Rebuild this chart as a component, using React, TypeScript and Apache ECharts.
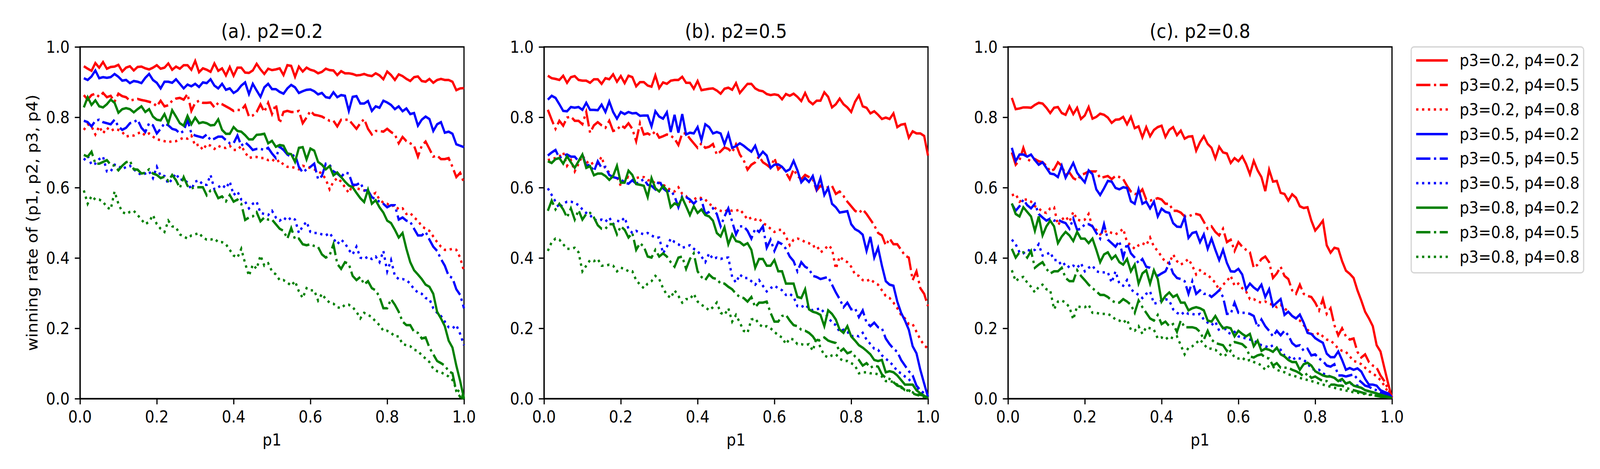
import React, { useEffect, useRef } from "react";
import * as echarts from "echarts";

// p1 sample positions
const P1 = [0.01, 0.02, 0.03, 0.04, 0.05, 0.06, 0.07, 0.08, 0.09, 0.1, 0.11, 0.12, 0.13, 0.14, 0.15, 0.16, 0.17, 0.18, 0.19, 0.2, 0.21, 0.22, 0.23, 0.24, 0.25, 0.26, 0.27, 0.28, 0.29, 0.3, 0.31, 0.32, 0.33, 0.34, 0.35, 0.36, 0.37, 0.38, 0.39, 0.4, 0.41, 0.42, 0.43, 0.44, 0.45, 0.46, 0.47, 0.48, 0.49, 0.5, 0.51, 0.52, 0.53, 0.54, 0.55, 0.56, 0.57, 0.58, 0.59, 0.6, 0.61, 0.62, 0.63, 0.64, 0.65, 0.66, 0.67, 0.68, 0.69, 0.7, 0.71, 0.72, 0.73, 0.74, 0.75, 0.76, 0.77, 0.78, 0.79, 0.8, 0.81, 0.82, 0.83, 0.84, 0.85, 0.86, 0.87, 0.88, 0.89, 0.9, 0.91, 0.92, 0.93, 0.94, 0.95, 0.96, 0.97, 0.98, 0.99, 1.0];

// Panel (a) p2=0.2
const A22 = [0.945, 0.938, 0.932, 0.954, 0.941, 0.957, 0.938, 0.943, 0.944, 0.949, 0.93, 0.941, 0.945, 0.933, 0.943, 0.944, 0.939, 0.936, 0.941, 0.948, 0.938, 0.941, 0.953, 0.935, 0.944, 0.938, 0.948, 0.948, 0.935, 0.96, 0.928, 0.939, 0.935, 0.929, 0.953, 0.932, 0.939, 0.919, 0.943, 0.918, 0.941, 0.941, 0.927, 0.926, 0.933, 0.952, 0.936, 0.923, 0.938, 0.934, 0.936, 0.939, 0.92, 0.948, 0.946, 0.915, 0.944, 0.93, 0.941, 0.935, 0.932, 0.925, 0.929, 0.938, 0.934, 0.933, 0.92, 0.931, 0.925, 0.925, 0.923, 0.919, 0.92, 0.923, 0.919, 0.917, 0.925, 0.919, 0.908, 0.93, 0.92, 0.906, 0.922, 0.917, 0.909, 0.903, 0.914, 0.916, 0.903, 0.901, 0.909, 0.898, 0.906, 0.909, 0.906, 0.906, 0.901, 0.877, 0.882, 0.883];
const A25 = [0.863, 0.85, 0.863, 0.867, 0.858, 0.869, 0.857, 0.861, 0.844, 0.867, 0.86, 0.857, 0.847, 0.85, 0.852, 0.849, 0.847, 0.844, 0.841, 0.831, 0.847, 0.831, 0.834, 0.847, 0.853, 0.855, 0.85, 0.866, 0.818, 0.841, 0.847, 0.841, 0.841, 0.842, 0.828, 0.841, 0.837, 0.831, 0.825, 0.818, 0.821, 0.82, 0.834, 0.802, 0.805, 0.815, 0.837, 0.815, 0.841, 0.809, 0.837, 0.783, 0.815, 0.818, 0.815, 0.815, 0.818, 0.783, 0.799, 0.818, 0.807, 0.805, 0.802, 0.796, 0.79, 0.79, 0.774, 0.793, 0.793, 0.793, 0.78, 0.767, 0.783, 0.795, 0.767, 0.751, 0.761, 0.761, 0.759, 0.767, 0.758, 0.751, 0.726, 0.744, 0.732, 0.726, 0.719, 0.688, 0.719, 0.731, 0.71, 0.688, 0.691, 0.681, 0.681, 0.684, 0.659, 0.63, 0.642, 0.614];
const A28 = [0.764, 0.78, 0.774, 0.751, 0.774, 0.754, 0.77, 0.761, 0.767, 0.764, 0.758, 0.745, 0.748, 0.748, 0.754, 0.758, 0.748, 0.754, 0.745, 0.737, 0.735, 0.732, 0.729, 0.732, 0.732, 0.737, 0.742, 0.739, 0.748, 0.719, 0.723, 0.707, 0.723, 0.719, 0.71, 0.719, 0.713, 0.713, 0.719, 0.707, 0.707, 0.719, 0.7, 0.684, 0.687, 0.687, 0.684, 0.684, 0.678, 0.681, 0.672, 0.678, 0.665, 0.659, 0.659, 0.656, 0.652, 0.662, 0.659, 0.656, 0.652, 0.646, 0.64, 0.624, 0.595, 0.617, 0.627, 0.617, 0.601, 0.585, 0.608, 0.598, 0.595, 0.592, 0.585, 0.579, 0.585, 0.566, 0.557, 0.554, 0.547, 0.55, 0.538, 0.541, 0.525, 0.528, 0.515, 0.506, 0.49, 0.483, 0.477, 0.461, 0.445, 0.432, 0.423, 0.423, 0.426, 0.423, 0.401, 0.362];
const A52 = [0.911, 0.906, 0.916, 0.933, 0.911, 0.914, 0.912, 0.914, 0.923, 0.915, 0.904, 0.906, 0.897, 0.903, 0.901, 0.897, 0.912, 0.923, 0.906, 0.898, 0.882, 0.901, 0.901, 0.898, 0.908, 0.895, 0.882, 0.893, 0.888, 0.895, 0.886, 0.899, 0.897, 0.908, 0.89, 0.882, 0.895, 0.878, 0.882, 0.869, 0.876, 0.89, 0.899, 0.866, 0.895, 0.876, 0.858, 0.885, 0.895, 0.88, 0.88, 0.872, 0.867, 0.882, 0.892, 0.885, 0.869, 0.874, 0.878, 0.879, 0.874, 0.865, 0.869, 0.857, 0.855, 0.871, 0.857, 0.863, 0.861, 0.818, 0.858, 0.86, 0.839, 0.839, 0.846, 0.818, 0.831, 0.827, 0.847, 0.842, 0.835, 0.823, 0.831, 0.817, 0.825, 0.809, 0.812, 0.776, 0.793, 0.802, 0.795, 0.761, 0.78, 0.786, 0.756, 0.759, 0.753, 0.723, 0.719, 0.715];
const A55 = [0.79, 0.786, 0.774, 0.79, 0.793, 0.786, 0.783, 0.78, 0.793, 0.774, 0.764, 0.77, 0.783, 0.786, 0.793, 0.77, 0.758, 0.783, 0.777, 0.754, 0.767, 0.783, 0.777, 0.767, 0.764, 0.754, 0.761, 0.793, 0.754, 0.748, 0.745, 0.742, 0.751, 0.735, 0.739, 0.745, 0.745, 0.735, 0.726, 0.726, 0.748, 0.719, 0.729, 0.719, 0.707, 0.71, 0.71, 0.707, 0.713, 0.697, 0.684, 0.716, 0.707, 0.694, 0.687, 0.694, 0.659, 0.643, 0.652, 0.659, 0.668, 0.624, 0.633, 0.668, 0.665, 0.646, 0.64, 0.63, 0.643, 0.64, 0.608, 0.608, 0.614, 0.592, 0.592, 0.573, 0.566, 0.56, 0.554, 0.544, 0.55, 0.55, 0.509, 0.515, 0.506, 0.503, 0.483, 0.464, 0.464, 0.474, 0.452, 0.432, 0.42, 0.397, 0.378, 0.349, 0.343, 0.311, 0.295, 0.257];
const A58 = [0.678, 0.691, 0.665, 0.668, 0.681, 0.688, 0.646, 0.646, 0.665, 0.662, 0.652, 0.659, 0.662, 0.652, 0.643, 0.636, 0.64, 0.646, 0.627, 0.659, 0.633, 0.633, 0.611, 0.624, 0.64, 0.621, 0.624, 0.614, 0.595, 0.617, 0.621, 0.608, 0.608, 0.636, 0.595, 0.601, 0.608, 0.598, 0.617, 0.579, 0.589, 0.566, 0.56, 0.541, 0.554, 0.56, 0.528, 0.525, 0.522, 0.534, 0.515, 0.506, 0.515, 0.506, 0.515, 0.509, 0.471, 0.49, 0.503, 0.474, 0.471, 0.471, 0.467, 0.464, 0.471, 0.455, 0.439, 0.452, 0.442, 0.423, 0.41, 0.432, 0.401, 0.397, 0.404, 0.397, 0.404, 0.388, 0.42, 0.362, 0.394, 0.349, 0.34, 0.34, 0.337, 0.327, 0.311, 0.302, 0.298, 0.286, 0.283, 0.257, 0.244, 0.235, 0.219, 0.203, 0.2, 0.209, 0.184, 0.152];
const A82 = [0.828, 0.857, 0.835, 0.848, 0.831, 0.828, 0.837, 0.85, 0.841, 0.813, 0.823, 0.826, 0.823, 0.814, 0.823, 0.831, 0.815, 0.823, 0.802, 0.793, 0.791, 0.809, 0.783, 0.82, 0.802, 0.783, 0.776, 0.804, 0.78, 0.799, 0.783, 0.786, 0.783, 0.777, 0.778, 0.794, 0.764, 0.753, 0.753, 0.772, 0.761, 0.759, 0.749, 0.737, 0.737, 0.75, 0.751, 0.753, 0.726, 0.733, 0.716, 0.721, 0.719, 0.697, 0.695, 0.673, 0.713, 0.715, 0.68, 0.711, 0.705, 0.673, 0.665, 0.652, 0.661, 0.635, 0.643, 0.63, 0.617, 0.606, 0.601, 0.585, 0.57, 0.559, 0.594, 0.554, 0.564, 0.544, 0.529, 0.506, 0.499, 0.48, 0.458, 0.471, 0.426, 0.388, 0.365, 0.353, 0.34, 0.324, 0.318, 0.298, 0.247, 0.228, 0.206, 0.165, 0.145, 0.094, 0.05, 0.0];
const A85 = [0.693, 0.688, 0.702, 0.668, 0.668, 0.673, 0.678, 0.665, 0.662, 0.649, 0.662, 0.672, 0.676, 0.652, 0.651, 0.64, 0.642, 0.652, 0.64, 0.636, 0.627, 0.631, 0.619, 0.636, 0.621, 0.599, 0.63, 0.605, 0.598, 0.601, 0.601, 0.601, 0.578, 0.592, 0.592, 0.57, 0.575, 0.561, 0.579, 0.56, 0.566, 0.554, 0.508, 0.515, 0.518, 0.53, 0.504, 0.515, 0.509, 0.509, 0.496, 0.483, 0.477, 0.455, 0.485, 0.453, 0.455, 0.439, 0.436, 0.439, 0.434, 0.431, 0.41, 0.401, 0.407, 0.439, 0.383, 0.369, 0.388, 0.383, 0.349, 0.337, 0.346, 0.325, 0.334, 0.314, 0.308, 0.289, 0.257, 0.257, 0.283, 0.267, 0.247, 0.219, 0.209, 0.209, 0.19, 0.187, 0.171, 0.174, 0.145, 0.126, 0.107, 0.101, 0.094, 0.078, 0.072, 0.021, 0.005, 0.0];
const A88 = [0.592, 0.554, 0.576, 0.566, 0.566, 0.56, 0.544, 0.538, 0.589, 0.554, 0.531, 0.525, 0.531, 0.534, 0.522, 0.509, 0.496, 0.503, 0.522, 0.496, 0.483, 0.474, 0.506, 0.49, 0.487, 0.467, 0.461, 0.455, 0.464, 0.467, 0.471, 0.458, 0.452, 0.452, 0.455, 0.445, 0.445, 0.439, 0.423, 0.407, 0.401, 0.426, 0.385, 0.349, 0.381, 0.369, 0.407, 0.378, 0.385, 0.362, 0.353, 0.337, 0.337, 0.33, 0.321, 0.334, 0.305, 0.286, 0.314, 0.308, 0.308, 0.279, 0.298, 0.283, 0.273, 0.27, 0.26, 0.257, 0.267, 0.267, 0.26, 0.247, 0.228, 0.244, 0.238, 0.232, 0.219, 0.209, 0.193, 0.193, 0.187, 0.177, 0.177, 0.155, 0.152, 0.149, 0.139, 0.136, 0.123, 0.114, 0.104, 0.085, 0.078, 0.075, 0.069, 0.063, 0.053, 0.027, 0.018, 0.005];

// Panel (b) p2=0.5
const B22 = [0.918, 0.911, 0.909, 0.906, 0.918, 0.898, 0.914, 0.917, 0.906, 0.904, 0.904, 0.898, 0.908, 0.908, 0.895, 0.911, 0.908, 0.922, 0.901, 0.917, 0.897, 0.918, 0.914, 0.888, 0.9, 0.9, 0.89, 0.887, 0.919, 0.883, 0.899, 0.895, 0.904, 0.906, 0.906, 0.915, 0.898, 0.898, 0.881, 0.903, 0.877, 0.879, 0.881, 0.882, 0.876, 0.867, 0.881, 0.884, 0.878, 0.897, 0.869, 0.882, 0.895, 0.895, 0.882, 0.876, 0.874, 0.866, 0.863, 0.865, 0.863, 0.851, 0.866, 0.861, 0.867, 0.858, 0.846, 0.869, 0.846, 0.837, 0.847, 0.847, 0.871, 0.858, 0.828, 0.837, 0.853, 0.837, 0.828, 0.815, 0.844, 0.862, 0.831, 0.827, 0.811, 0.817, 0.807, 0.795, 0.799, 0.795, 0.811, 0.772, 0.779, 0.781, 0.742, 0.76, 0.754, 0.754, 0.747, 0.691];
const B25 = [0.821, 0.793, 0.767, 0.79, 0.776, 0.799, 0.802, 0.79, 0.79, 0.78, 0.815, 0.756, 0.777, 0.786, 0.777, 0.77, 0.79, 0.761, 0.764, 0.777, 0.77, 0.783, 0.767, 0.732, 0.783, 0.751, 0.754, 0.748, 0.761, 0.742, 0.746, 0.751, 0.748, 0.739, 0.721, 0.754, 0.754, 0.739, 0.726, 0.713, 0.726, 0.713, 0.716, 0.724, 0.694, 0.703, 0.714, 0.71, 0.7, 0.723, 0.694, 0.678, 0.651, 0.665, 0.672, 0.689, 0.672, 0.665, 0.656, 0.684, 0.652, 0.662, 0.643, 0.624, 0.652, 0.633, 0.624, 0.636, 0.63, 0.624, 0.592, 0.605, 0.598, 0.601, 0.605, 0.582, 0.589, 0.576, 0.56, 0.547, 0.534, 0.528, 0.538, 0.525, 0.509, 0.493, 0.471, 0.464, 0.436, 0.455, 0.439, 0.439, 0.423, 0.407, 0.401, 0.337, 0.362, 0.314, 0.298, 0.263];
const B28 = [0.678, 0.681, 0.684, 0.688, 0.7, 0.662, 0.678, 0.646, 0.668, 0.691, 0.675, 0.665, 0.672, 0.668, 0.688, 0.652, 0.643, 0.633, 0.63, 0.605, 0.624, 0.63, 0.621, 0.627, 0.63, 0.63, 0.621, 0.621, 0.611, 0.614, 0.608, 0.601, 0.592, 0.589, 0.601, 0.582, 0.576, 0.56, 0.566, 0.573, 0.57, 0.566, 0.554, 0.547, 0.538, 0.534, 0.531, 0.538, 0.534, 0.534, 0.538, 0.525, 0.509, 0.515, 0.509, 0.512, 0.499, 0.493, 0.483, 0.474, 0.48, 0.48, 0.461, 0.436, 0.452, 0.455, 0.452, 0.445, 0.442, 0.432, 0.436, 0.416, 0.423, 0.436, 0.426, 0.369, 0.404, 0.394, 0.388, 0.375, 0.353, 0.349, 0.337, 0.334, 0.34, 0.33, 0.324, 0.308, 0.292, 0.286, 0.273, 0.257, 0.238, 0.228, 0.212, 0.212, 0.19, 0.168, 0.152, 0.142];
const B52 = [0.85, 0.861, 0.855, 0.837, 0.818, 0.817, 0.829, 0.827, 0.829, 0.821, 0.841, 0.821, 0.821, 0.82, 0.836, 0.815, 0.845, 0.815, 0.796, 0.815, 0.809, 0.815, 0.811, 0.812, 0.804, 0.805, 0.805, 0.774, 0.817, 0.802, 0.796, 0.814, 0.758, 0.807, 0.756, 0.809, 0.751, 0.756, 0.754, 0.772, 0.735, 0.78, 0.772, 0.754, 0.758, 0.754, 0.723, 0.753, 0.713, 0.718, 0.726, 0.719, 0.71, 0.702, 0.719, 0.688, 0.702, 0.691, 0.656, 0.665, 0.666, 0.659, 0.646, 0.652, 0.676, 0.649, 0.615, 0.627, 0.616, 0.633, 0.595, 0.627, 0.579, 0.599, 0.554, 0.544, 0.529, 0.531, 0.533, 0.496, 0.482, 0.476, 0.466, 0.42, 0.46, 0.401, 0.429, 0.378, 0.334, 0.324, 0.321, 0.276, 0.244, 0.222, 0.196, 0.149, 0.129, 0.082, 0.043, 0.005];
const B55 = [0.691, 0.7, 0.707, 0.684, 0.691, 0.694, 0.688, 0.688, 0.675, 0.694, 0.662, 0.665, 0.646, 0.675, 0.656, 0.659, 0.636, 0.63, 0.627, 0.624, 0.614, 0.611, 0.621, 0.611, 0.617, 0.624, 0.608, 0.605, 0.595, 0.621, 0.598, 0.589, 0.592, 0.576, 0.544, 0.576, 0.573, 0.566, 0.554, 0.566, 0.566, 0.525, 0.531, 0.541, 0.525, 0.49, 0.518, 0.541, 0.503, 0.467, 0.49, 0.49, 0.477, 0.455, 0.483, 0.474, 0.49, 0.429, 0.452, 0.42, 0.445, 0.439, 0.426, 0.404, 0.391, 0.362, 0.388, 0.375, 0.369, 0.349, 0.346, 0.34, 0.343, 0.346, 0.324, 0.302, 0.283, 0.26, 0.273, 0.254, 0.257, 0.232, 0.251, 0.216, 0.206, 0.216, 0.203, 0.2, 0.171, 0.155, 0.142, 0.133, 0.11, 0.094, 0.078, 0.066, 0.037, 0.024, 0.015, 0.005];
const B58 = [0.598, 0.579, 0.56, 0.541, 0.554, 0.56, 0.56, 0.557, 0.55, 0.538, 0.528, 0.522, 0.509, 0.506, 0.509, 0.503, 0.515, 0.496, 0.506, 0.503, 0.515, 0.483, 0.471, 0.477, 0.471, 0.467, 0.471, 0.464, 0.458, 0.458, 0.413, 0.432, 0.455, 0.445, 0.439, 0.429, 0.432, 0.436, 0.426, 0.42, 0.404, 0.388, 0.413, 0.397, 0.401, 0.397, 0.401, 0.401, 0.346, 0.33, 0.353, 0.343, 0.343, 0.334, 0.324, 0.337, 0.321, 0.305, 0.314, 0.321, 0.314, 0.308, 0.295, 0.298, 0.289, 0.263, 0.26, 0.267, 0.257, 0.251, 0.254, 0.257, 0.244, 0.232, 0.216, 0.209, 0.19, 0.196, 0.19, 0.177, 0.18, 0.177, 0.187, 0.168, 0.155, 0.142, 0.139, 0.123, 0.114, 0.104, 0.094, 0.078, 0.072, 0.063, 0.056, 0.04, 0.027, 0.021, 0.011, 0.005];
const B82 = [0.675, 0.67, 0.681, 0.684, 0.668, 0.689, 0.672, 0.656, 0.675, 0.694, 0.656, 0.661, 0.635, 0.64, 0.64, 0.633, 0.622, 0.633, 0.662, 0.614, 0.614, 0.648, 0.636, 0.61, 0.608, 0.605, 0.573, 0.627, 0.598, 0.589, 0.605, 0.592, 0.544, 0.555, 0.55, 0.571, 0.547, 0.522, 0.547, 0.528, 0.538, 0.522, 0.518, 0.506, 0.471, 0.461, 0.487, 0.439, 0.467, 0.448, 0.445, 0.436, 0.442, 0.423, 0.372, 0.397, 0.397, 0.378, 0.378, 0.394, 0.362, 0.362, 0.327, 0.327, 0.327, 0.289, 0.286, 0.311, 0.254, 0.247, 0.244, 0.238, 0.206, 0.251, 0.241, 0.225, 0.196, 0.187, 0.206, 0.177, 0.165, 0.152, 0.145, 0.136, 0.126, 0.11, 0.107, 0.11, 0.075, 0.078, 0.075, 0.066, 0.053, 0.04, 0.04, 0.04, 0.024, 0.015, 0.008, 0.002];
const B85 = [0.534, 0.563, 0.538, 0.554, 0.538, 0.515, 0.541, 0.509, 0.536, 0.509, 0.525, 0.528, 0.515, 0.493, 0.483, 0.483, 0.496, 0.496, 0.467, 0.49, 0.48, 0.458, 0.471, 0.423, 0.442, 0.432, 0.404, 0.401, 0.423, 0.404, 0.413, 0.404, 0.388, 0.375, 0.401, 0.404, 0.369, 0.397, 0.413, 0.362, 0.346, 0.337, 0.353, 0.343, 0.34, 0.327, 0.327, 0.318, 0.311, 0.298, 0.289, 0.286, 0.276, 0.289, 0.26, 0.273, 0.273, 0.276, 0.244, 0.219, 0.219, 0.235, 0.238, 0.222, 0.209, 0.206, 0.196, 0.193, 0.187, 0.177, 0.161, 0.168, 0.174, 0.165, 0.161, 0.158, 0.133, 0.142, 0.129, 0.133, 0.12, 0.11, 0.094, 0.101, 0.088, 0.094, 0.091, 0.069, 0.059, 0.056, 0.047, 0.037, 0.034, 0.024, 0.024, 0.015, 0.011, 0.011, 0.008, 0.002];
const B88 = [0.42, 0.445, 0.455, 0.452, 0.439, 0.426, 0.426, 0.429, 0.416, 0.362, 0.378, 0.394, 0.391, 0.397, 0.378, 0.378, 0.381, 0.378, 0.362, 0.372, 0.369, 0.362, 0.362, 0.337, 0.324, 0.314, 0.327, 0.334, 0.349, 0.34, 0.314, 0.295, 0.286, 0.308, 0.292, 0.273, 0.283, 0.283, 0.298, 0.276, 0.267, 0.26, 0.251, 0.26, 0.273, 0.244, 0.238, 0.257, 0.219, 0.238, 0.216, 0.193, 0.187, 0.225, 0.228, 0.212, 0.203, 0.206, 0.2, 0.19, 0.18, 0.174, 0.155, 0.171, 0.168, 0.155, 0.155, 0.152, 0.155, 0.136, 0.174, 0.145, 0.123, 0.117, 0.123, 0.126, 0.114, 0.107, 0.107, 0.101, 0.094, 0.072, 0.075, 0.075, 0.072, 0.072, 0.069, 0.063, 0.05, 0.05, 0.047, 0.04, 0.031, 0.027, 0.021, 0.018, 0.011, 0.008, 0.005, 0.002];

// Panel (c) p2=0.8
const C22 = [0.855, 0.823, 0.825, 0.828, 0.828, 0.827, 0.835, 0.841, 0.839, 0.827, 0.812, 0.827, 0.829, 0.812, 0.807, 0.831, 0.809, 0.827, 0.795, 0.805, 0.829, 0.796, 0.801, 0.81, 0.807, 0.799, 0.784, 0.793, 0.794, 0.801, 0.78, 0.801, 0.769, 0.774, 0.743, 0.772, 0.746, 0.764, 0.772, 0.776, 0.744, 0.764, 0.772, 0.749, 0.762, 0.739, 0.745, 0.746, 0.705, 0.729, 0.746, 0.724, 0.713, 0.683, 0.716, 0.7, 0.697, 0.67, 0.684, 0.675, 0.689, 0.667, 0.638, 0.676, 0.649, 0.63, 0.59, 0.651, 0.617, 0.619, 0.585, 0.582, 0.563, 0.581, 0.571, 0.547, 0.542, 0.544, 0.506, 0.478, 0.491, 0.506, 0.436, 0.415, 0.429, 0.426, 0.391, 0.364, 0.355, 0.343, 0.308, 0.279, 0.247, 0.228, 0.206, 0.152, 0.134, 0.088, 0.043, 0.002];
const C25 = [0.7, 0.665, 0.678, 0.713, 0.681, 0.675, 0.681, 0.675, 0.672, 0.662, 0.646, 0.652, 0.672, 0.662, 0.636, 0.643, 0.627, 0.621, 0.636, 0.64, 0.646, 0.646, 0.646, 0.627, 0.63, 0.633, 0.624, 0.633, 0.63, 0.624, 0.605, 0.589, 0.582, 0.582, 0.595, 0.566, 0.563, 0.566, 0.57, 0.566, 0.554, 0.554, 0.534, 0.534, 0.529, 0.518, 0.518, 0.523, 0.525, 0.522, 0.503, 0.483, 0.49, 0.474, 0.464, 0.483, 0.445, 0.452, 0.42, 0.445, 0.432, 0.423, 0.416, 0.372, 0.381, 0.397, 0.404, 0.388, 0.343, 0.356, 0.375, 0.349, 0.34, 0.308, 0.298, 0.324, 0.298, 0.292, 0.289, 0.273, 0.251, 0.283, 0.241, 0.257, 0.209, 0.18, 0.2, 0.177, 0.168, 0.171, 0.133, 0.117, 0.126, 0.104, 0.094, 0.088, 0.066, 0.05, 0.027, 0.005];
const C28 = [0.578, 0.582, 0.56, 0.566, 0.566, 0.56, 0.547, 0.541, 0.531, 0.528, 0.541, 0.544, 0.493, 0.509, 0.518, 0.503, 0.531, 0.509, 0.506, 0.509, 0.525, 0.487, 0.48, 0.467, 0.474, 0.477, 0.471, 0.467, 0.474, 0.483, 0.445, 0.436, 0.426, 0.436, 0.442, 0.436, 0.458, 0.432, 0.42, 0.404, 0.388, 0.385, 0.41, 0.391, 0.381, 0.388, 0.397, 0.378, 0.353, 0.365, 0.356, 0.353, 0.34, 0.33, 0.308, 0.324, 0.334, 0.349, 0.321, 0.327, 0.314, 0.305, 0.283, 0.283, 0.276, 0.273, 0.276, 0.27, 0.267, 0.26, 0.267, 0.257, 0.247, 0.235, 0.228, 0.222, 0.209, 0.196, 0.184, 0.18, 0.187, 0.177, 0.168, 0.165, 0.155, 0.142, 0.136, 0.133, 0.12, 0.107, 0.104, 0.098, 0.088, 0.078, 0.072, 0.063, 0.053, 0.037, 0.018, 0.005];
const C52 = [0.713, 0.675, 0.694, 0.694, 0.688, 0.694, 0.678, 0.665, 0.672, 0.656, 0.64, 0.638, 0.63, 0.662, 0.628, 0.649, 0.67, 0.642, 0.628, 0.615, 0.649, 0.638, 0.595, 0.579, 0.598, 0.619, 0.617, 0.599, 0.595, 0.601, 0.599, 0.561, 0.554, 0.595, 0.554, 0.56, 0.541, 0.56, 0.518, 0.54, 0.531, 0.528, 0.499, 0.489, 0.488, 0.515, 0.457, 0.471, 0.474, 0.445, 0.467, 0.426, 0.455, 0.423, 0.394, 0.423, 0.386, 0.362, 0.361, 0.369, 0.353, 0.311, 0.327, 0.316, 0.308, 0.324, 0.289, 0.311, 0.263, 0.273, 0.283, 0.238, 0.247, 0.235, 0.228, 0.239, 0.216, 0.187, 0.184, 0.172, 0.165, 0.159, 0.128, 0.118, 0.118, 0.134, 0.11, 0.082, 0.087, 0.082, 0.086, 0.077, 0.056, 0.04, 0.04, 0.037, 0.024, 0.019, 0.015, 0.004];
const C55 = [0.554, 0.534, 0.547, 0.566, 0.55, 0.541, 0.554, 0.525, 0.515, 0.506, 0.512, 0.506, 0.509, 0.503, 0.499, 0.483, 0.512, 0.48, 0.483, 0.496, 0.496, 0.49, 0.471, 0.455, 0.496, 0.452, 0.442, 0.432, 0.448, 0.401, 0.442, 0.413, 0.401, 0.385, 0.397, 0.375, 0.372, 0.362, 0.349, 0.356, 0.362, 0.385, 0.356, 0.343, 0.34, 0.334, 0.298, 0.334, 0.298, 0.308, 0.298, 0.298, 0.289, 0.298, 0.308, 0.289, 0.241, 0.241, 0.273, 0.244, 0.244, 0.244, 0.241, 0.235, 0.203, 0.225, 0.206, 0.193, 0.177, 0.193, 0.18, 0.193, 0.18, 0.158, 0.149, 0.152, 0.136, 0.142, 0.123, 0.126, 0.114, 0.107, 0.094, 0.091, 0.098, 0.066, 0.066, 0.063, 0.066, 0.069, 0.056, 0.047, 0.037, 0.034, 0.027, 0.024, 0.018, 0.015, 0.011, 0.005];
const C58 = [0.452, 0.439, 0.416, 0.413, 0.423, 0.42, 0.423, 0.439, 0.407, 0.41, 0.416, 0.394, 0.394, 0.378, 0.385, 0.372, 0.378, 0.372, 0.385, 0.362, 0.372, 0.378, 0.362, 0.359, 0.359, 0.359, 0.33, 0.362, 0.327, 0.321, 0.337, 0.311, 0.302, 0.295, 0.286, 0.298, 0.305, 0.27, 0.273, 0.279, 0.283, 0.279, 0.254, 0.244, 0.238, 0.247, 0.241, 0.241, 0.238, 0.241, 0.225, 0.216, 0.209, 0.219, 0.193, 0.209, 0.19, 0.184, 0.19, 0.177, 0.174, 0.171, 0.168, 0.165, 0.158, 0.152, 0.149, 0.145, 0.152, 0.136, 0.139, 0.123, 0.12, 0.11, 0.117, 0.114, 0.11, 0.101, 0.085, 0.082, 0.082, 0.072, 0.066, 0.063, 0.059, 0.053, 0.05, 0.043, 0.043, 0.04, 0.037, 0.031, 0.024, 0.021, 0.018, 0.015, 0.011, 0.008, 0.005, 0.003];
const C82 = [0.555, 0.525, 0.518, 0.544, 0.531, 0.518, 0.477, 0.518, 0.464, 0.49, 0.506, 0.49, 0.442, 0.461, 0.474, 0.464, 0.448, 0.474, 0.455, 0.455, 0.442, 0.455, 0.423, 0.388, 0.41, 0.416, 0.397, 0.407, 0.388, 0.381, 0.397, 0.362, 0.381, 0.327, 0.356, 0.365, 0.327, 0.365, 0.34, 0.276, 0.292, 0.302, 0.289, 0.295, 0.273, 0.273, 0.251, 0.257, 0.26, 0.257, 0.251, 0.222, 0.219, 0.235, 0.216, 0.2, 0.203, 0.2, 0.177, 0.193, 0.184, 0.177, 0.184, 0.149, 0.165, 0.136, 0.142, 0.139, 0.133, 0.145, 0.126, 0.12, 0.11, 0.104, 0.104, 0.082, 0.098, 0.102, 0.094, 0.078, 0.072, 0.066, 0.063, 0.063, 0.059, 0.05, 0.056, 0.043, 0.047, 0.037, 0.034, 0.031, 0.024, 0.021, 0.018, 0.015, 0.011, 0.008, 0.005, 0.002];
const C85 = [0.426, 0.401, 0.416, 0.416, 0.401, 0.42, 0.372, 0.381, 0.388, 0.369, 0.356, 0.362, 0.362, 0.372, 0.343, 0.334, 0.334, 0.365, 0.349, 0.337, 0.324, 0.314, 0.305, 0.295, 0.295, 0.289, 0.279, 0.273, 0.273, 0.283, 0.276, 0.267, 0.244, 0.279, 0.26, 0.244, 0.228, 0.222, 0.238, 0.212, 0.219, 0.206, 0.212, 0.19, 0.222, 0.203, 0.203, 0.203, 0.2, 0.19, 0.168, 0.193, 0.168, 0.158, 0.155, 0.152, 0.136, 0.155, 0.161, 0.158, 0.155, 0.145, 0.12, 0.117, 0.123, 0.126, 0.117, 0.114, 0.094, 0.101, 0.088, 0.088, 0.088, 0.082, 0.078, 0.072, 0.063, 0.072, 0.059, 0.063, 0.056, 0.05, 0.05, 0.04, 0.04, 0.037, 0.037, 0.031, 0.027, 0.024, 0.021, 0.018, 0.015, 0.013, 0.01, 0.008, 0.006, 0.005, 0.004, 0.002];
const C88 = [0.365, 0.334, 0.343, 0.346, 0.33, 0.318, 0.302, 0.318, 0.324, 0.311, 0.308, 0.254, 0.276, 0.279, 0.273, 0.26, 0.225, 0.263, 0.26, 0.26, 0.267, 0.244, 0.244, 0.241, 0.241, 0.241, 0.235, 0.225, 0.222, 0.216, 0.225, 0.196, 0.193, 0.206, 0.184, 0.203, 0.2, 0.196, 0.171, 0.174, 0.168, 0.177, 0.171, 0.177, 0.152, 0.126, 0.145, 0.149, 0.158, 0.168, 0.155, 0.142, 0.142, 0.139, 0.129, 0.12, 0.126, 0.136, 0.117, 0.114, 0.117, 0.107, 0.11, 0.104, 0.101, 0.094, 0.082, 0.094, 0.091, 0.082, 0.078, 0.075, 0.069, 0.066, 0.063, 0.059, 0.056, 0.053, 0.05, 0.047, 0.043, 0.04, 0.037, 0.034, 0.031, 0.027, 0.026, 0.023, 0.021, 0.018, 0.017, 0.015, 0.013, 0.011, 0.01, 0.008, 0.006, 0.005, 0.004, 0.002];

const SERIES_NAMES = [
  "p3=0.2, p4=0.2",
  "p3=0.2, p4=0.5",
  "p3=0.2, p4=0.8",
  "p3=0.5, p4=0.2",
  "p3=0.5, p4=0.5",
  "p3=0.5, p4=0.8",
  "p3=0.8, p4=0.2",
  "p3=0.8, p4=0.5",
  "p3=0.8, p4=0.8",
];
const PANEL_TITLES = ["(a). p2=0.2", "(b). p2=0.5", "(c). p2=0.8"];
const PANEL_DATA = [
  [A22, A25, A28, A52, A55, A58, A82, A85, A88],
  [B22, B25, B28, B52, B55, B58, B82, B85, B88],
  [C22, C25, C28, C52, C55, C58, C82, C85, C88],
];
const TICKS = [0, 0.2, 0.4, 0.6, 0.8, 1.0];

const P3_COLORS = ["#ff0000", "#0000ff", "#008000"];
const LW = 6.25;
const P4_DASH: any[] = ["solid", [40, 10, 6.25, 10], [6.25, 10.3]];

const FONT = "DejaVu Sans";
const DESIGN_W = 4500;
const DESIGN_H = 1200;
const GRID_LEFTS = [225, 1530, 2835];
const GRID_TOP = 120;
const GRID_W = 1080;
const GRID_H = 900;

// legend box layout
const LEG_X = 3969;
const LEG_Y = 120;
const LEG_W = 485;
const LEG_H = 578;
const LEG_ROW0 = 154.6;
const LEG_ROW_STEP = 62.8;

function buildOption() {
  const grids = GRID_LEFTS.map((left) => ({
    left,
    top: GRID_TOP,
    width: GRID_W,
    height: GRID_H,
    show: true,
    borderColor: "#000",
    borderWidth: 3.3,
    backgroundColor: "transparent",
    containLabel: false,
  }));
  const axisCommon = {
    type: "value",
    min: TICKS[0],
    max: TICKS[TICKS.length - 1],
    interval: 0.2,
    splitLine: { show: false },
    axisLine: { show: true, onZero: false, lineStyle: { color: "#000", width: 3.3 } },
    axisTick: { show: true, inside: false, length: 14.6, lineStyle: { color: "#000", width: 3.3 } },
  };
  const xAxes = GRID_LEFTS.map((_, i) => ({
    ...axisCommon,
    gridIndex: i,
    position: "bottom",
    name: "p1",
    nameLocation: "middle",
    nameGap: 84,
    nameTextStyle: { fontSize: 42, fontFamily: FONT, color: "#000" },
    axisLabel: {
      fontSize: 42,
      fontFamily: FONT,
      color: "#000",
      margin: 25,
      formatter: (v: number) => v.toFixed(1),
    },
  }));
  const yAxes = GRID_LEFTS.map((_, i) => ({
    ...axisCommon,
    gridIndex: i,
    position: "left",
    name: i === 0 ? "winning rate of (p1, p2, p3, p4)" : "",
    nameLocation: "middle",
    nameGap: 113,
    nameTextStyle: { fontSize: 42, fontFamily: FONT, color: "#000" },
    axisLabel: {
      fontSize: 42,
      fontFamily: FONT,
      color: "#000",
      margin: 29,
      formatter: (v: number) => v.toFixed(1),
    },
  }));
  const series: any[] = [];
  PANEL_DATA.forEach((panel, pi) => {
    panel.forEach((vals, k) => {
      const color = P3_COLORS[Math.floor(k / 3)];
      series.push({
        type: "line",
        name: SERIES_NAMES[k],
        xAxisIndex: pi,
        yAxisIndex: pi,
        data: P1.map((x, i) => [x, vals[i]]),
        symbol: "none",
        showSymbol: false,
        clip: true,
        color,
        itemStyle: { color },
        lineStyle: { color, width: LW, type: P4_DASH[k % 3], cap: "butt", join: "miter" },
        emphasis: { disabled: true },
        silent: true,
      });
    });
  });
  const graphic: any[] = PANEL_TITLES.map((t, i) => ({
    type: "text",
    x: GRID_LEFTS[i] + GRID_W / 2,
    y: 80,
    silent: true,
    style: {
      text: t,
      fontSize: 50,
      fontFamily: FONT,
      fill: "#000",
      align: "center",
      verticalAlign: "middle",
    },
  }));
  const legendChildren: any[] = [
    {
      type: "rect",
      shape: { x: LEG_X, y: LEG_Y, width: LEG_W, height: LEG_H, r: 8 },
      style: { fill: "#ffffff", stroke: "#d5d5d5", lineWidth: 3.3 },
    },
  ];
  SERIES_NAMES.forEach((name, k) => {
    const cy = LEG_ROW0 + k * LEG_ROW_STEP;
    const dash = P4_DASH[k % 3];
    legendChildren.push({
      type: "line",
      shape: { x1: LEG_X + 14, y1: cy, x2: LEG_X + 103, y2: cy },
      style: {
        stroke: P3_COLORS[Math.floor(k / 3)],
        lineWidth: LW,
        lineDash: dash === "solid" ? null : dash,
        lineCap: "butt",
      },
    });
    legendChildren.push({
      type: "text",
      x: LEG_X + 136,
      y: cy,
      style: {
        text: name,
        fontSize: 42,
        fontFamily: FONT,
        fill: "#000",
        align: "left",
        verticalAlign: "middle",
      },
    });
  });
  graphic.push({ type: "group", silent: true, children: legendChildren });
  return {
    animation: false,
    backgroundColor: "#ffffff",
    grid: grids,
    xAxis: xAxes,
    yAxis: yAxes,
    series,
    graphic,
  };
}

// The design is laid out on a 4500x1200 canvas and fitted to the visible viewport.
function viewportScale() {
  const w = window.innerWidth || DESIGN_W;
  const h = window.innerHeight || DESIGN_H;
  return { sx: w / DESIGN_W, sy: h / DESIGN_H };
}

export default function App() {
  const ref = useRef<HTMLDivElement | null>(null);
  const { sx, sy } = viewportScale();
  useEffect(() => {
    document.body.style.margin = "0";
    document.body.style.overflow = "hidden";
    if (!ref.current) return;
    const chart = echarts.init(ref.current, null, { renderer: "svg", width: DESIGN_W, height: DESIGN_H });
    chart.setOption(buildOption() as any);
    return () => {
      chart.dispose();
    };
  }, []);
  return (
    <div
      style={{
        position: "absolute",
        left: 0,
        top: 0,
        width: DESIGN_W,
        height: DESIGN_H,
        transform: `scale(${sx}, ${sy})`,
        transformOrigin: "0 0",
        background: "#fff",
      }}
    >
      <div ref={ref} style={{ width: DESIGN_W, height: DESIGN_H }} />
    </div>
  );
}
